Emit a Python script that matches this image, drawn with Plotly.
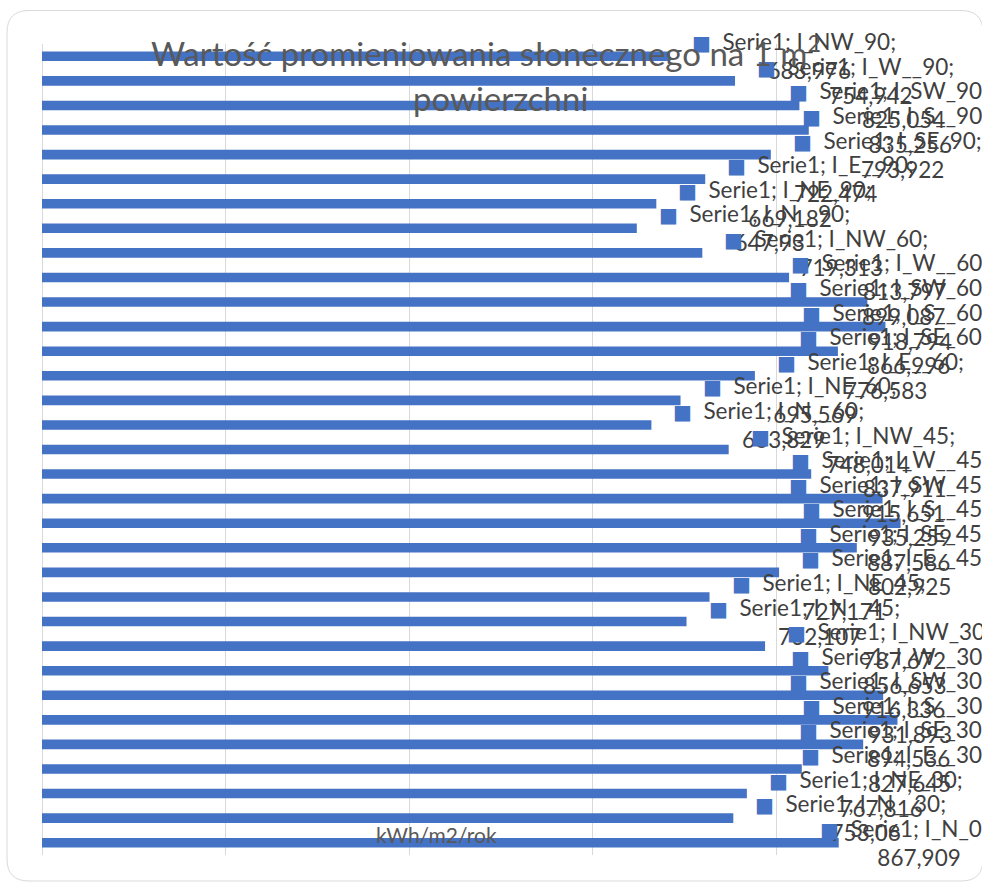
import plotly.graph_objects as go

# Annual solar irradiation on a 1 m2 surface, by orientation and tilt
categories = [
    "I_NW_90", "I_W__90", "I_SW_90", "I_S__90", "I_SE_90", "I_E__90", "I_NE_90", "I_N__90",
    "I_NW_60", "I_W__60", "I_SW_60", "I_S__60", "I_SE_60", "I_E__60", "I_NE_60", "I_N__60",
    "I_NW_45", "I_W__45", "I_SW_45", "I_S__45", "I_SE_45", "I_E__45", "I_NE_45", "I_N__45",
    "I_NW_30", "I_W__30", "I_SW_30", "I_S__30", "I_SE_30", "I_E__30", "I_NE_30", "I_N__30",
    "I_N_0",
]
values = [
    683.976, 754.942, 825.054, 835.256, 793.922, 722.474, 669.182, 647.93,
    719.313, 813.797, 899.087, 918.794, 866.996, 776.583, 695.569, 663.829,
    748.014, 837.911, 915.651, 935.259, 887.586, 802.925, 727.171, 702.107,
    787.672, 856.653, 916.336, 931.893, 894.536, 827.645, 767.816, 753.06,
    867.909,
]
series_name = "Serie1"
title_lines = ["Wartość promieniowania słonecznego na 1 m<sup>2</sup>", "powierzchni"]
axis_title = "kWh/m2/rok"

BLUE = "#4472C4"
GRID = "#D9D9D9"
FONT = "Lato"
W, H = 982, 883
ML, MR, MT, MB = 42, 22, 44, 28
X_MAX = 1000
LABEL_SIZE = 22.5

plot_w = W - ML - MR
px_per_unit = plot_w / X_MAX

# rough advance widths (em) used to decide whether a label fits right of its bar
_CW = {"W": 0.97, "N": 0.76, "S": 0.55, "E": 0.57, "I": 0.29, "_": 0.47, ";": 0.25,
       " ": 0.2, "e": 0.54, "r": 0.37, "i": 0.25}


def text_width(s, size):
    return sum(_CW.get(c, 0.58) for c in s) * size


fig = go.Figure()
fig.add_trace(go.Bar(
    x=values, y=categories, orientation="h",
    marker=dict(color=BLUE, line=dict(width=0)),
    hoverinfo="x+y",
))

SQUARE = "font-family:'DejaVu Sans';font-size:20px"
annotations = []
label_gap = 20            # px between bar end and label box
fit_limit = 990           # a label that would run past this is pushed left
right_edge = 990          # ... so that it ends here
for cat, v in zip(categories, values):
    line1 = f"{series_name}; {cat};"
    txt = (f'<span style="color:{BLUE};{SQUARE}">■</span>\u00a0 {line1}<br>'
           f'<span style="color:rgba(0,0,0,0);{SQUARE}">■</span>\u00a0 {str(v).replace(".", ",")}')
    w_est = 28 + text_width(line1, LABEL_SIZE)
    bar_px = ML + v * px_per_unit
    common = dict(text=txt, showarrow=False, align="center", yref="y", y=cat,
                  yanchor="middle", font=dict(family=FONT, size=LABEL_SIZE, color="#404040"))
    if bar_px + label_gap + w_est > fit_limit:
        annotations.append(dict(xref="paper", x=(right_edge - ML) / plot_w,
                                xanchor="right", **common))
    else:
        annotations.append(dict(xref="x", x=v, xanchor="left", xshift=label_gap, **common))

# chart title, two centred lines
TITLE_SIZE = 33
annotations.append(dict(text=title_lines[0], xref="paper", yref="paper",
                        x=(486 - ML) / plot_w, y=1, yshift=-31, xanchor="center", yanchor="bottom",
                        showarrow=False, font=dict(family=FONT, size=TITLE_SIZE, color="#595959")))
annotations.append(dict(text=title_lines[1], xref="paper", yref="paper",
                        x=(500 - ML) / plot_w, y=1, yshift=-76, xanchor="center", yanchor="bottom",
                        showarrow=False, font=dict(family=FONT, size=TITLE_SIZE, color="#595959")))
# value axis title
annotations.append(dict(text=axis_title, xref="paper", yref="paper",
                        x=(436 - ML) / plot_w, y=0, yshift=6, xanchor="center", yanchor="bottom",
                        showarrow=False, font=dict(family=FONT, size=21, color="#595959")))

# rounded chart-area border (its right side runs just past the page edge)
r = 22
L, R, T, B = 7 - ML, 983 - ML, MT - 10.5, MT - 881
border = (f"M {L + r} {T} H {R - r} Q {R} {T} {R} {T - r} V {B + r} Q {R} {B} {R - r} {B} "
          f"H {L + r} Q {L} {B} {L} {B + r} V {T - r} Q {L} {T} {L + r} {T} Z")

n = len(categories)
fig.update_layout(
    width=W, height=H,
    margin=dict(l=ML, r=MR, t=MT, b=MB, pad=0),
    paper_bgcolor="white", plot_bgcolor="white",
    showlegend=False, bargap=0.61,
    font=dict(family=FONT, color="#595959"),
    xaxis=dict(range=[0, X_MAX], dtick=200, showticklabels=False, ticks="",
               showgrid=True, gridcolor=GRID, gridwidth=1.3,
               zeroline=True, zerolinecolor=GRID, zerolinewidth=1.3, showline=False),
    yaxis=dict(range=[n - 0.5, -0.5], autorange=False, showticklabels=False, ticks="",
               showgrid=False, zeroline=False, showline=False, type="category"),
    annotations=annotations,
    shapes=[dict(type="path", path=border, xref="paper", yref="paper",
                 xsizemode="pixel", ysizemode="pixel", xanchor=0, yanchor=1,
                 line=dict(color=GRID, width=1), layer="below")],
)

fig.write_html("out.html")
